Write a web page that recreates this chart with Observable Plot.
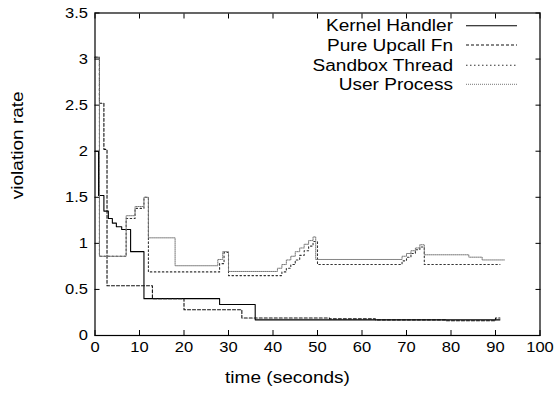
<!DOCTYPE html>
<html><head><meta charset="utf-8">
<script src="https://cdn.jsdelivr.net/npm/d3@7"></script>
<script src="https://cdn.jsdelivr.net/npm/@observablehq/plot@0.6"></script>
<style>body{margin:0;background:#fff} #chart svg{font-family:"Liberation Sans",Arial,sans-serif}</style>
</head><body><div id="chart"></div>
<script>
const seriesNames = ["Kernel Handler", "Pure Upcall Fn", "Sandbox Thread", "User Process"];

const kernelT = [0, 0.8, 2, 3, 3.9, 4.8, 6, 8, 11, 28, 36, 91];
const kernelV = [2.0, 1.52, 1.35, 1.27, 1.22, 1.18, 1.15, 0.91, 0.40, 0.337, 0.17, 0.17];

const upcallT = [0, 1, 2, 2.7, 12.9, 20, 33, 52.7, 63, 79, 90, 91];
const upcallV = [3.02, 2.52, 2.02, 0.54, 0.40, 0.28, 0.19, 0.18, 0.17, 0.16, 0.19, 0.19];

const sandboxT = [0, 1, 7, 9, 11, 12, 28, 29, 30, 42, 43, 44, 45, 46, 47, 48, 49, 50, 69, 70, 71, 72, 73, 74, 91];
const sandboxV = [3.02, 0.86, 1.27, 1.38, 1.5, 0.69, 0.78, 0.9, 0.65, 0.69, 0.73, 0.77, 0.82, 0.87, 0.92, 0.97, 1.02, 0.77, 0.81, 0.85, 0.89, 0.93, 0.96, 0.77, 0.77];

const userT = [0, 1, 7, 9, 11, 12, 18, 27.6, 28.7, 30, 41, 42, 43, 44, 45, 46, 47, 48, 49, 49.6, 69, 70, 71, 72, 73, 74, 84, 87, 92];
const userV = [3.02, 0.86, 1.30, 1.40, 1.5, 1.06, 0.757, 0.825, 0.91, 0.695, 0.73, 0.77, 0.82, 0.86, 0.91, 0.95, 0.99, 1.03, 1.07, 0.825, 0.86, 0.89, 0.92, 0.95, 0.985, 0.876, 0.85, 0.82, 0.82];

const xTicks = [0, 10, 20, 30, 40, 50, 60, 70, 80, 90, 100];
const yTicks = [0, 0.5, 1, 1.5, 2, 2.5, 3, 3.5];

const seriesT = [kernelT, upcallT, sandboxT, userT];
const seriesV = [kernelV, upcallV, sandboxV, userV];
const rows = [];
seriesNames.forEach((name, k) => seriesT[k].forEach((t, i) => rows.push({series: name, t, v: seriesV[k][i]})));

const lineStyle = {
  "Kernel Handler": {stroke: "#000", dash: null, width: 1.1},
  "Pure Upcall Fn": {stroke: "#111", dash: "3,2", width: 1.1},
  "Sandbox Thread": {stroke: "#333", dash: "1.5,2.5", width: 1.1},
  "User Process": {stroke: "#777", dash: "1,1", width: 1}
};

const lineMarks = seriesNames.map(name => Plot.line(rows.filter(d => d.series === name), {
  x: "t", y: "v", curve: "step-after",
  stroke: lineStyle[name].stroke, strokeWidth: lineStyle[name].width,
  strokeDasharray: lineStyle[name].dash
}));

const chart = Plot.plot({
  width: 559, height: 397,
  marginLeft: 94.5, marginRight: 19.5, marginTop: 12.5, marginBottom: 62,
  x: {domain: [0, 100]},
  y: {domain: [0, 3.5]},
  style: {fontSize: "15px", background: "white", color: "black", fontFamily: "'Liberation Sans', Arial, sans-serif"},
  marks: [
    Plot.axisX({ticks: xTicks, tickSize: 0, tickPadding: 6, tickFormat: d => String(d), label: null, fontSize: 15}),
    Plot.axisX({ticks: xTicks, tickSize: 5, dy: -5, tickFormat: () => "", label: null}),
    Plot.axisX({anchor: "top", ticks: xTicks, tickSize: 5, dy: 5, tickFormat: () => "", label: null}),
    Plot.axisY({ticks: yTicks, tickSize: 0, tickPadding: 7, tickFormat: d => String(d), label: null, fontSize: 15}),
    Plot.axisY({ticks: yTicks, tickSize: 5, dx: 5, tickFormat: () => "", label: null}),
    Plot.axisY({anchor: "right", ticks: yTicks, tickSize: 5, dx: -5, tickFormat: () => "", label: null}),
    ...lineMarks,
    Plot.frame({stroke: "black", strokeWidth: 1.2}),
    Plot.text(["violation rate"], {frameAnchor: "left", rotate: -90, dx: -77.5, dy: 25, fontSize: 16, className: "stretch-title"}),
    Plot.text(["time (seconds)"], {frameAnchor: "bottom", dx: -30, dy: 47, fontSize: 16, className: "stretch-title"})
  ]
});
document.getElementById("chart").appendChild(chart);

// horizontally widen text glyphs to match the reference's wide rendering
function stretch(nodes, factor) {
  nodes.forEach(n => {
    const len = n.getComputedTextLength();
    if (len > 0) {
      n.setAttribute("textLength", (len * factor).toFixed(2));
      n.setAttribute("lengthAdjust", "spacingAndGlyphs");
    }
  });
}
const svg = d3.select(chart);
stretch(svg.selectAll("[aria-label='x-axis tick label'] text, [aria-label='y-axis tick label'] text").nodes(), 1.1);
stretch(svg.selectAll(".stretch-title text").nodes(), 1.19);

// legend
const lg = svg.append("g").attr("font-size", 16).attr("font-family", "'Liberation Sans', Arial, sans-serif");
const rowY = [25.7, 45, 65.3, 84.3];
seriesNames.forEach((name, i) => {
  const t = lg.append("text").attr("x", 453).attr("y", rowY[i]).attr("dy", "0.35em").attr("text-anchor", "end").attr("fill", "black").text(name);
  stretch([t.node()], 1.19);
  const s = lineStyle[name];
  const ln = lg.append("line").attr("x1", 466).attr("x2", 517).attr("y1", rowY[i]).attr("y2", rowY[i])
    .attr("stroke", s.stroke).attr("stroke-width", s.width);
  if (s.dash) ln.attr("stroke-dasharray", s.dash);
});
</script>
</body></html>
